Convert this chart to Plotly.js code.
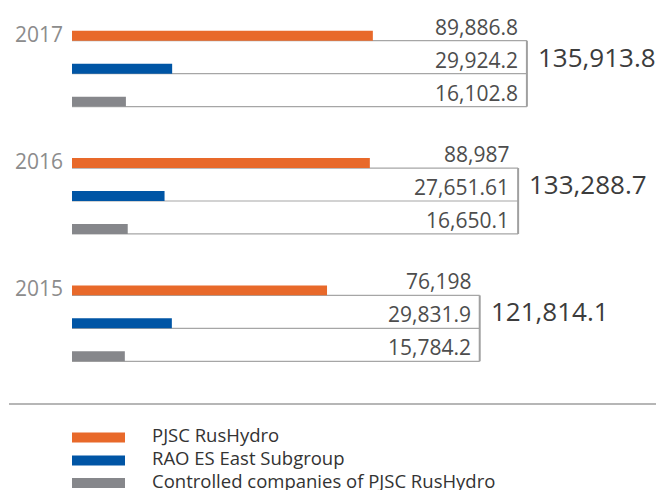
<!DOCTYPE html>
<html>
<head>
<meta charset="utf-8">
<script src="https://cdn.plot.ly/plotly-3.0.1.min.js"></script>
<style>html,body{margin:0;padding:0;background:#fff;}#chart{width:656px;height:490px;}</style>
</head>
<body>
<div id="chart"></div>
<script>
const years = ['2017', '2016', '2015'];
const seriesNames = ['PJSC RusHydro', 'RAO ES East Subgroup', 'Controlled companies of PJSC RusHydro'];
const rusHydro = [89886.8, 88987, 76198];
const raoEastSubgroup = [29924.2, 27651.61, 29831.9];
const controlledCompanies = [16102.8, 16650.1, 15784.2];
const seriesColors = ['#E8692A', '#0055A5', '#86878B'];

const series = [rusHydro, raoEastSubgroup, controlledCompanies];
const totals = years.map((_, i) => series.reduce((s, arr) => s + arr[i], 0));

function fmt(v, maxDec) {
  const f = Math.pow(10, maxDec);
  const r = Math.round(v * f) / f;
  let [ip, dp] = r.toString().split('.');
  ip = ip.replace(/\B(?=(\d{3})+(?!\d))/g, ',');
  return dp ? ip + '.' + dp : ip;
}

const W = 656, H = 490, mt = 5, mb = 103, ml = 72, mr = 0;
const plotH = H - mt - mb, plotW = W - ml - mr;
const pyToPaper = py => (H - mb - py) / plotH;
const pxToPaper = px => (px - ml) / plotW;

const bargap = 0.2235, bargroupgap = 0.697;
const slot = (1 - bargap) / 3;
const half = slot * (1 - bargroupgap) / 2;

const FONT = 'Open Sans, Arial, sans-serif';

const traces = series.map((vals, k) => ({
  type: 'bar',
  orientation: 'h',
  name: seriesNames[k],
  x: vals,
  y: years,
  marker: {color: seriesColors[k], line: {width: 0}},
  hoverinfo: 'x+name',
  showlegend: false
}));

const shapes = [];
const annotations = [];
years.forEach((yr, i) => {
  const bottoms = [0, 1, 2].map(k => i + (k - 1) * slot + half);
  bottoms.forEach((yb, k) => {
    shapes.push({type: 'line', xref: 'x', yref: 'y', x0: 0, x1: totals[i], y0: yb, y1: yb,
      line: {color: '#A6A6A6', width: 1.2}, layer: 'below'});
    annotations.push({xref: 'x', yref: 'y', x: totals[i], y: yb, xanchor: 'right', yanchor: 'middle',
      xshift: -7, yshift: 14, showarrow: false, text: fmt(series[k][i], 2),
      font: {family: FONT, size: 21, color: '#4D4D4D'}});
  });
  shapes.push({type: 'line', xref: 'x', yref: 'y', x0: totals[i], x1: totals[i], y0: bottoms[0], y1: bottoms[2],
    line: {color: '#A0A0A0', width: 2}, layer: 'below'});
  annotations.push({xref: 'x', yref: 'y', x: totals[i], y: bottoms[1], xanchor: 'left', yanchor: 'middle',
    xshift: 9, yshift: 17, showarrow: false, text: fmt(totals[i], 1),
    font: {family: FONT, size: 26, color: '#3C3C3C'}});
  annotations.push({xref: 'paper', yref: 'y', x: 0, y: i - slot, xanchor: 'right', yanchor: 'middle',
    xshift: -7, yshift: 2, showarrow: false, text: yr,
    font: {family: FONT, size: 21, color: '#8C8C8C'}});
});

// separator
shapes.push({type: 'line', xref: 'paper', yref: 'paper', x0: pxToPaper(9), x1: pxToPaper(656),
  y0: pyToPaper(404), y1: pyToPaper(404), line: {color: '#9E9E9E', width: 1.5}});

// legend
const legendY = [437.5, 460.5, 483];
seriesNames.forEach((nm, k) => {
  shapes.push({type: 'rect', xref: 'paper', yref: 'paper', x0: pxToPaper(72), x1: pxToPaper(125),
    y0: pyToPaper(legendY[k] - 5), y1: pyToPaper(legendY[k] + 5), fillcolor: seriesColors[k], line: {width: 0}});
  annotations.push({xref: 'paper', yref: 'paper', x: pxToPaper(150), y: pyToPaper(legendY[k]),
    xanchor: 'left', yanchor: 'middle', yshift: 2.5, showarrow: false, text: nm,
    font: {family: FONT, size: 18.5, color: '#333333'}});
});

const layout = {
  width: W, height: H,
  margin: {l: ml, r: mr, t: mt, b: mb, pad: 0},
  paper_bgcolor: '#ffffff', plot_bgcolor: '#ffffff',
  barmode: 'group', bargap: bargap, bargroupgap: bargroupgap,
  xaxis: {range: [0, plotW / 0.003347], visible: false, fixedrange: true},
  yaxis: {type: 'category', categoryorder: 'array', categoryarray: years, range: [2.5, -0.5], autorange: false,
    showticklabels: false, showgrid: false, zeroline: false, showline: false, ticks: '', fixedrange: true},
  shapes: shapes,
  annotations: annotations,
  showlegend: false,
  font: {family: FONT}
};

Plotly.newPlot('chart', traces, layout, {displayModeBar: false, staticPlot: true});
</script>
</body>
</html>
